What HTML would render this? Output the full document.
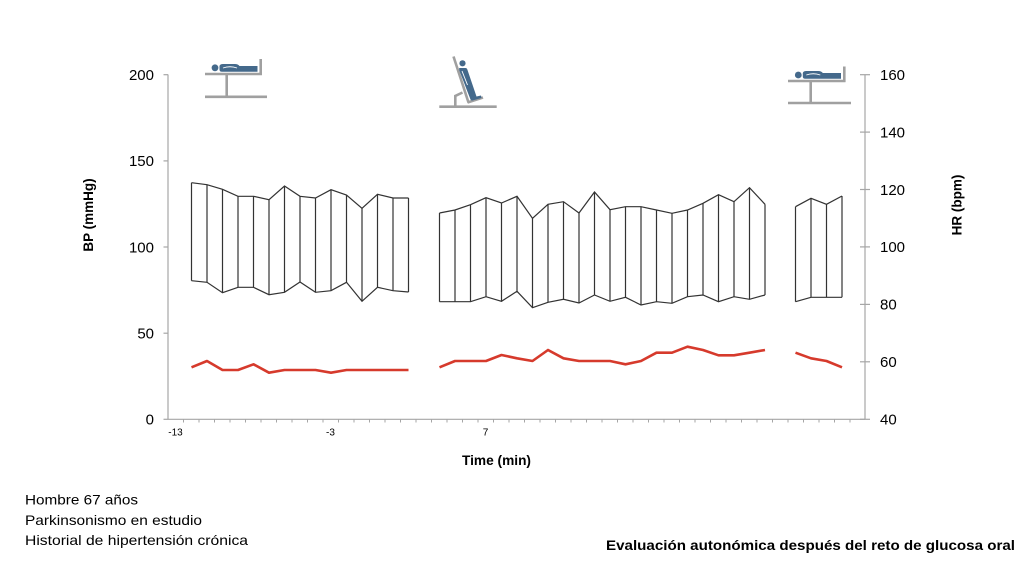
<!DOCTYPE html>
<html><head><meta charset="utf-8"><style>
html,body{margin:0;padding:0;background:#fff;}
svg{display:block;font-family:"Liberation Sans",Arial,sans-serif;}
</style></head><body>
<svg width="1024" height="572" viewBox="0 0 1024 572" xmlns="http://www.w3.org/2000/svg">
<rect width="1024" height="572" fill="#fff"/>
<!-- axes -->
<g stroke="#a6a6a6" stroke-width="1.2" fill="none">
<line x1="168" y1="74.5" x2="168" y2="419.3"/>
<line x1="865" y1="74.5" x2="865" y2="419.3"/>
<line x1="168" y1="419.3" x2="865" y2="419.3"/>
<!-- left ticks -->
<line x1="163.5" y1="74.7" x2="168" y2="74.7"/>
<line x1="163.5" y1="160.9" x2="168" y2="160.9"/>
<line x1="163.5" y1="247" x2="168" y2="247"/>
<line x1="163.5" y1="333.2" x2="168" y2="333.2"/>
<line x1="163.5" y1="419.3" x2="168" y2="419.3"/>
<!-- right ticks -->
<line x1="860" y1="74.7" x2="870" y2="74.7"/>
<line x1="860" y1="132.1" x2="870" y2="132.1"/>
<line x1="860" y1="189.5" x2="870" y2="189.5"/>
<line x1="860" y1="246.9" x2="870" y2="246.9"/>
<line x1="860" y1="304.4" x2="870" y2="304.4"/>
<line x1="860" y1="361.8" x2="870" y2="361.8"/>
<line x1="860" y1="419.3" x2="870" y2="419.3"/>
</g>
<!-- x ticks -->
<g stroke="#a6a6a6" stroke-width="1">
<path d="M183.5 419v3.5M199 419v3.5M214.5 419v3.5M230 419v3.5M245.5 419v3.5M261 419v3.5M276.5 419v3.5M292 419v3.5M307.5 419v3.5M323 419v3.5M338.5 419v3.5M354 419v3.5M369.5 419v3.5M385 419v3.5M400.5 419v3.5M416 419v3.5M431.5 419v3.5M447 419v3.5M462.5 419v3.5M478 419v3.5M493.5 419v3.5M509 419v3.5M524.5 419v3.5M540 419v3.5M555.5 419v3.5M571 419v3.5M586.5 419v3.5M602 419v3.5M617.5 419v3.5M633 419v3.5M648.5 419v3.5M664 419v3.5M679.5 419v3.5M695 419v3.5M710.5 419v3.5M726 419v3.5M741.5 419v3.5M757 419v3.5M772.5 419v3.5M788 419v3.5M803.5 419v3.5M819 419v3.5M834.5 419v3.5M850 419v3.5"/>
</g>
<!-- tick labels -->
<g font-size="15" fill="#000" text-anchor="end">
<text x="154" y="80">200</text>
<text x="154" y="166.2">150</text>
<text x="154" y="252.3">100</text>
<text x="154" y="338.5">50</text>
<text x="154" y="424.6">0</text>
</g>
<g font-size="15" fill="#000">
<text x="880" y="80">160</text>
<text x="880" y="137.4">140</text>
<text x="880" y="194.8">120</text>
<text x="880" y="252.2">100</text>
<text x="880" y="309.7">80</text>
<text x="880" y="367.1">60</text>
<text x="880" y="424.6">40</text>
</g>
<g font-size="10" fill="#000" text-anchor="middle">
<text x="175.5" y="435.5">-13</text>
<text x="330.5" y="435.5">-3</text>
<text x="485.5" y="435.5">7</text>
</g>
<!-- axis titles -->
<text x="462" y="465" font-size="13.5" font-weight="bold" textLength="69" lengthAdjust="spacingAndGlyphs">Time (min)</text>
<text transform="translate(93,215) rotate(-90)" font-size="13.5" font-weight="bold" text-anchor="middle">BP (mmHg)</text>
<text transform="translate(961.5,205) rotate(-90)" font-size="13.5" font-weight="bold" text-anchor="middle">HR (bpm)</text>
<!-- BP high-low -->
<g stroke="#333" stroke-width="1.2" fill="none" stroke-linejoin="miter">
<polyline points="191.5,182.7 207,184.7 222.5,189.3 238,196.3 253.5,196.3 269,199.7 284.5,186 300,196.3 315.5,198 331,189.7 346.5,195 362,208.3 377.5,194.3 393,198 408.5,198"/>
<polyline points="191.5,280.7 207,282.3 222.5,292.7 238,287.3 253.5,287.3 269,294.7 284.5,292.3 300,282 315.5,292.3 331,290.7 346.5,282.3 362,301.3 377.5,287.3 393,290.7 408.5,292"/>
<path d="M191.5 182.7V280.7M207 184.7V282.3M222.5 189.3V292.7M238 196.3V287.3M253.5 196.3V287.3M269 199.7V294.7M284.5 186V292.3M300 196.3V282M315.5 198V292.3M331 189.7V290.7M346.5 195V282.3M362 208.3V301.3M377.5 194.3V287.3M393 198V290.7M408.5 198V292"/>
<polyline points="439.5,213 455,210 470.5,204.7 486,197.7 501.5,203 517,196.3 532.5,218.3 548,204.3 563.5,201.7 579,213 594.5,192 610,209.7 625.5,206.7 641,206.7 656.5,210 672,213.3 687.5,210 703,203.3 718.5,194.7 734,201.7 749.5,187.7 765,204.3"/>
<polyline points="439.5,301.7 455,301.7 470.5,301.7 486,296.7 501.5,301.3 517,291.3 532.5,307.7 548,302.3 563.5,299.3 579,303 594.5,295 610,301.3 625.5,297.3 641,305 656.5,301.7 672,303.3 687.5,296.7 703,295 718.5,301.7 734,296.7 749.5,299.3 765,295"/>
<path d="M439.5 213V301.7M455 210V301.7M470.5 204.7V301.7M486 197.7V296.7M501.5 203V301.3M517 196.3V291.3M532.5 218.3V307.7M548 204.3V302.3M563.5 201.7V299.3M579 213V303M594.5 192V295M610 209.7V301.3M625.5 206.7V297.3M641 206.7V305M656.5 210V301.7M672 213.3V303.3M687.5 210V296.7M703 203.3V295M718.5 194.7V301.7M734 201.7V296.7M749.5 187.7V299.3M765 204.3V295"/>
<polyline points="795.5,206.7 811,198.3 826.5,204.3 842,196"/>
<polyline points="795.5,301.7 811,297.3 826.5,297.3 842,297.3"/>
<path d="M795.5 206.7V301.7M811 198.3V297.3M826.5 204.3V297.3M842 196V297.3"/>
</g>
<!-- HR -->
<g stroke="#d63a2c" stroke-width="2.6" fill="none" stroke-linejoin="round">
<polyline points="191.5,367.3 207,361 222.5,370 238,370 253.5,364.3 269,372.7 284.5,370 300,370 315.5,370 331,372.7 346.5,370 362,370 377.5,370 393,370 408.5,370"/>
<polyline points="439.5,367.3 455,361 470.5,361 486,361 501.5,355 517,358.3 532.5,361 548,350 563.5,358.3 579,361 594.5,361 610,361 625.5,364.3 641,361 656.5,352.7 672,352.7 687.5,346.7 703,350 718.5,355.3 734,355.3 749.5,352.7 765,350"/>
<polyline points="795.5,352.7 811,358.3 826.5,361 842,367.3"/>
</g>
<!-- left bed icon -->
<g stroke="#a0a0a0" stroke-width="2.6" fill="none">
<line x1="205" y1="74" x2="262" y2="74"/>
<line x1="260.7" y1="59" x2="260.7" y2="75"/>
<line x1="226.7" y1="74" x2="226.7" y2="97"/>
<line x1="205" y1="96.8" x2="267" y2="96.8"/>
</g>
<g fill="#44698b">
<circle cx="215" cy="67.8" r="3.4"/>
<path d="M219.5 66 Q220 64 223 64 L235 64 Q238 64 239.5 66 L257.5 66 L257.5 71.8 L222 71.8 Q219.5 71.8 219.5 69.5 Z"/>
</g>
<path d="M223 68 Q230 65.5 237 68" stroke="#fff" stroke-width="0.9" fill="none"/>
<!-- right bed icon -->
<g stroke="#a0a0a0" stroke-width="2.6" fill="none">
<line x1="788" y1="81" x2="845.5" y2="81"/>
<line x1="844.3" y1="66.5" x2="844.3" y2="82"/>
<line x1="810.7" y1="81" x2="810.7" y2="103"/>
<line x1="788" y1="103" x2="851" y2="103"/>
</g>
<g fill="#44698b">
<circle cx="798.3" cy="75" r="3.4"/>
<path d="M802.8 73 Q803.3 71 806.3 71 L818.3 71 Q821.3 71 822.8 73 L841 73 L841 78.8 L805.3 78.8 Q802.8 78.8 802.8 76.5 Z"/>
</g>
<path d="M806.3 75 Q813.3 72.5 820.3 75" stroke="#fff" stroke-width="0.9" fill="none"/>
<!-- tilt icon -->
<g stroke="#a0a0a0" stroke-width="2.6" fill="none" stroke-linejoin="miter">
<line x1="439.3" y1="106.7" x2="496.7" y2="106.7"/>
<line x1="453.5" y1="56.5" x2="468.5" y2="102.5"/>
<line x1="467.5" y1="102.5" x2="483" y2="97.5"/>
<polyline points="455.3,106.7 455.3,96 462.5,92.5"/>
</g>
<g fill="#44698b">
<circle cx="462.5" cy="63.3" r="3.1"/>
<path d="M459.3 68 L465.5 68 Q467 68 467.5 70 L476.5 96.5 L481 95.5 L481.5 98 L472.5 100.5 Q471 100.8 470.5 99.5 L459.5 71 Q458.8 68.5 459.3 68 Z"/>
</g>
<path d="M462 71 L467.5 85" stroke="#fff" stroke-width="0.9" fill="none"/>
<!-- bottom texts -->
<g font-size="14" fill="#000">
<text x="25" y="504.5" textLength="113" lengthAdjust="spacingAndGlyphs">Hombre 67 años</text>
<text x="25" y="525" textLength="177" lengthAdjust="spacingAndGlyphs">Parkinsonismo en estudio</text>
<text x="25" y="545" textLength="223" lengthAdjust="spacingAndGlyphs">Historial de hipertensión crónica</text>
</g>
<text x="606" y="550" font-size="14" font-weight="bold" fill="#000" textLength="409" lengthAdjust="spacingAndGlyphs">Evaluación autonómica después del reto de glucosa oral</text>
</svg>
</body></html>
